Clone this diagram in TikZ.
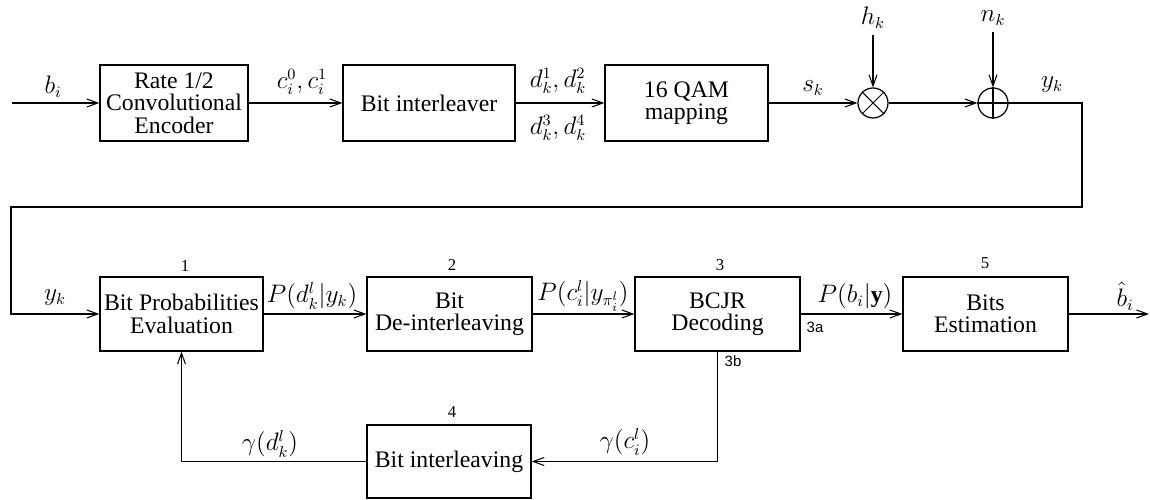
\documentclass[tikz,border=0pt]{standalone}
\usepackage{fontspec}
\setmainfont{Liberation Serif}
\setsansfont{Liberation Sans}
\usetikzlibrary{arrows.meta}
\tikzset{
    block/.style={draw, line width=0.7pt, align=center, inner sep=2pt},
    topblock/.style={block, minimum height=1.52cm},
    rowblock/.style={block, minimum width=3.3cm, minimum height=1.48cm},
    sig/.style={line width=0.6pt, -{Straight Barb[length=2.2mm,width=1.6mm]}},
    wire/.style={line width=0.6pt},
    mix/.style={draw, circle, line width=0.7pt, minimum size=0.6cm, inner sep=0pt},
    sym/.style={inner sep=0.5pt},
    tag/.style={inner sep=0.5pt, font=\fontsize{9.5}{10}\selectfont},
    port/.style={inner sep=0.5pt, font=\sffamily\fontsize{8.5}{9}\selectfont},
}
\begin{document}
\begin{tikzpicture}[font=\fontsize{13.5}{12.8}\selectfont]
    \useasboundingbox (0, 0) rectangle (23, 10);
    \node[topblock, minimum width=2.96cm] (enc) at(3.48, 7.94) {Rate 1/2\\Convolutional\\Encoder};
    \node[topblock, minimum width=3.44cm] (ilv) at(8.58, 7.94) {Bit interleaver};
    \node[topblock, minimum width=3.26cm] (qam) at(13.73, 7.94) {16 QAM\\mapping};
    \node[mix] (mul) at(17.46, 7.94) {};
    \node[mix] (add) at(19.86, 7.94) {};
    \draw[wire] (mul.north west) -- (mul.south east) (mul.north east) -- (mul.south west);
    \draw[wire] (add.north) -- (add.south) (add.west) -- (add.east);
    \node (hk) at(17.46, 9.64) {$h_k$};
    \node (nk) at(19.86, 9.64) {$n_k$};
    \coordinate (bin) at(0.24, 7.94);
    \coordinate (turnR) at(21.64, 5.86);
    \coordinate (turnL) at(0.22, 5.86);
    \draw[sig] (bin) -- (enc);
    \draw[sig] (enc) -- (ilv);
    \draw[sig] (ilv) -- (qam);
    \draw[sig] (qam) -- (mul);
    \draw[sig] (mul) -- (add);
    \draw[sig] (hk) -- (mul);
    \draw[sig] (nk) -- (add);
    \node[sym] (lbi) at(1.06, 8.26) {$b_i$};
    \node[sym] (lci) at(6.04, 8.36) {$c_i^0, c_i^1$};
    \node[sym] (ldtop) at(11.16, 8.38) {$d_k^1, d_k^2$};
    \node[sym] (ldbot) at(11.16, 7.44) {$d_k^3, d_k^4$};
    \node[sym] (lsk) at(16.26, 8.24) {$s_k$};
    \node[sym] (lyk) at(21.04, 8.30) {$y_k$};
    \node[rowblock, minimum width=3.26cm] (bpe) at(3.63, 3.72) {Bit Probabilities\\Evaluation};
    \node[rowblock] (deint) at(8.99, 3.72) {Bit\\De-interleaving};
    \node[rowblock] (bcjr) at(14.35, 3.72) {BCJR\\Decoding};
    \node[rowblock] (est) at(19.71, 3.72) {Bits\\Estimation};
    \node[block, minimum width=3.28cm, minimum height=1.46cm] (reilv) at(8.98, 0.77) {Bit interleaving};
    \coordinate (bout) at(22.98, 3.72);
    \draw[sig] (add.east) -| (turnR) -- (turnL) |- (bpe.west);
    \draw[sig] (bpe) -- (deint);
    \draw[sig] (deint) -- (bcjr);
    \draw[sig] (bcjr) -- (est);
    \draw[sig] (est) -- (bout);
    \draw[sig] (bcjr.south) |- (reilv.east);
    \draw[sig] (reilv.west) -| (bpe.south);
    \node[tag] (n1) at(3.70, 4.68) {1};
    \node[tag] (n2) at(9.04, 4.70) {2};
    \node[tag] (n3) at(14.40, 4.70) {3};
    \node[tag] (n4) at(9.04, 1.76) {4};
    \node[tag] (n5) at(19.70, 4.74) {5};
    \node[port] (p3a) at(16.30, 3.46) {3a};
    \node[port] (p3b) at(14.66, 2.78) {3b};
    \node[sym] (lyin) at(1.10, 4.04) {$y_k$};
    \node[sym] (lpd) at(6.24, 4.08) {$P(d_k^l|y_k)$};
    \node[sym] (lpc) at(11.66, 4.08) {$P(c_i^l|y_{\pi_i^l})$};
    \node[sym] (lpb) at(17.10, 4.08) {$P(b_i|\mathbf{y})$};
    \node[sym] (lbhat) at(22.50, 4.08) {$\hat{b}_i$};
    \node[sym] (lgd) at(5.40, 1.12) {$\gamma(d_k^l)$};
    \node[sym] (lgc) at(12.50, 1.16) {$\gamma(c_i^l)$};
\end{tikzpicture}
\end{document}
